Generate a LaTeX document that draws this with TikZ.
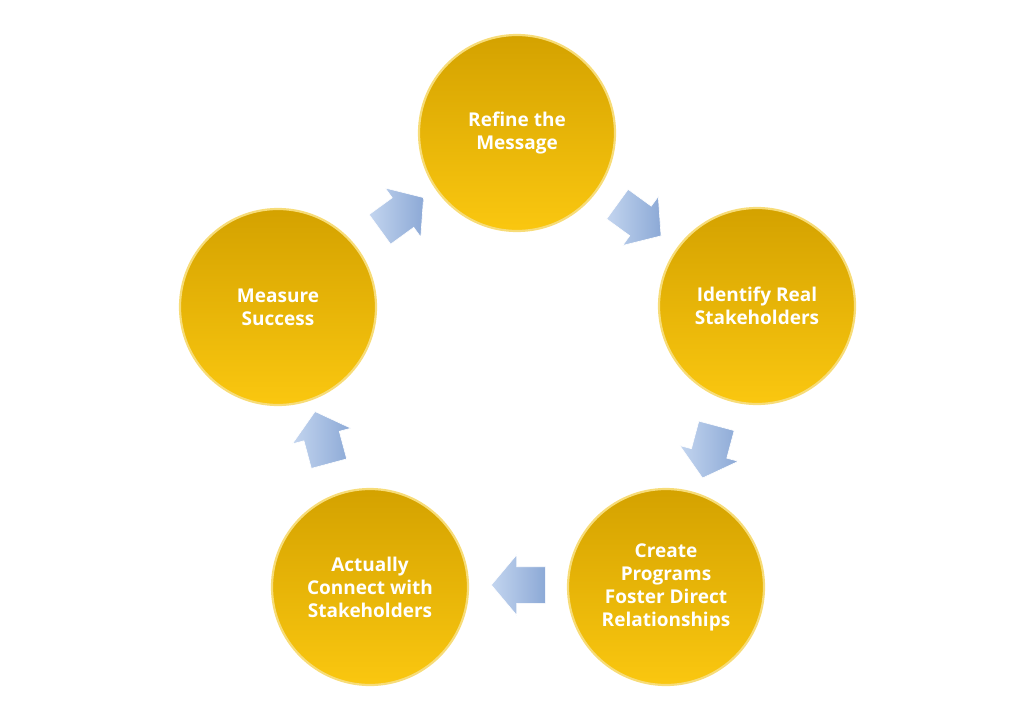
\documentclass[tikz,border=0pt]{standalone}
\usepackage{fontspec}
\setmainfont{Open Sans}
\usetikzlibrary{shapes.arrows,calc}
\definecolor{goldtop}{HTML}{D4A200}
\definecolor{goldbot}{HTML}{FAC710}
\definecolor{goldrim}{HTML}{F7DC78}
\definecolor{blueA}{HTML}{C3D5EF}
\definecolor{blueB}{HTML}{8CA9D6}
\tikzset{
  stepcircle/.style={circle, minimum size=196pt, inner sep=0pt,
    top color=goldtop, bottom color=goldbot, draw=goldrim, line width=2.2pt,
    text=white, align=center, font=\bfseries\fontsize{19}{23}\selectfont},
  flowarrow/.style={single arrow, minimum height=54pt, minimum width=60pt,
    single arrow head extend=12pt, single arrow tip angle=100,
    inner xsep=0pt, inner ysep=18pt,
    left color=blueA, right color=blueB, draw=white, line width=0.6pt}
}
\begin{document}
\begin{tikzpicture}[x=1pt,y=-1pt]
\useasboundingbox (0,0) rectangle (1024,717);
\node[stepcircle] (refine) at (517,133) {Refine the\\Message};
\node[stepcircle] (identify) at (757,306) {Identify Real\\Stakeholders};
\node[stepcircle] (create) at (666,587) {Create\\Programs\\Foster Direct\\Relationships};
\node[stepcircle] (connect) at (370,587) {Actually\\Connect with\\Stakeholders};
\node[stepcircle] (measure) at (278,307) {Measure\\Success};
\node[flowarrow, rotate=-36] (a1) at ($(refine)!0.5!(identify)+(-4,-4)$) {};
\node[flowarrow, rotate=-105] (a2) at ($(identify)!0.5!(create)+(0,-2)$) {};
\node[flowarrow, rotate=180] (a3) at ($(create)!0.5!(connect)+(8,-2)$) {};
\node[flowarrow, rotate=105] (a4) at ($(connect)!0.5!(measure)+(0,-2)$) {};
\node[flowarrow, rotate=36] (a5) at ($(measure)!0.5!(refine)+(-2,-2)$) {};
\end{tikzpicture}
\end{document}
